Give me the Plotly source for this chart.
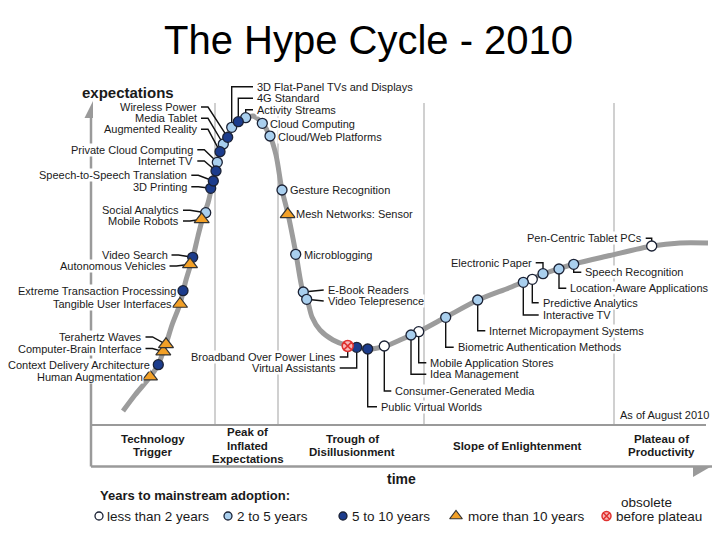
import plotly.graph_objects as go

FONT = "Liberation Sans, Arial, sans-serif"

# ---- data (time across, expectations down the screen) ----
curve_time = [123, 135, 150, 158, 166, 172, 180, 186, 193, 198, 203, 208, 213, 217, 221, 226,
              232, 239, 246, 253, 262, 270, 276, 282, 288, 296, 303, 307, 312, 320, 333, 347,
              358, 368, 386, 400, 419, 446, 478, 510, 543, 574, 610, 652, 680, 708]
curve_expect = [411, 395, 377, 365, 344, 325, 304, 280, 257, 236, 217, 203, 181, 164, 149, 138,
                127, 121, 117.5, 116, 123, 136, 155, 190, 214, 254, 292, 299, 317, 330, 340, 345.5,
                347.5, 349, 346, 340, 331.5, 317, 300, 287.5, 274, 264, 255.5, 246, 243, 243]

tech_names = [
    "Human Augmentation", "Context Delivery Architecture", "Computer-Brain Interface",
    "Terahertz Waves", "Tangible User Interfaces", "Extreme Transaction Processing",
    "Autonomous Vehicles", "Video Search", "Mobile Robots", "Social Analytics", "3D Printing",
    "Speech-to-Speech Translation", "Internet TV", "Private Cloud Computing",
    "Augmented Reality", "Media Tablet", "Wireless Power",
    "3D Flat-Panel TVs and Displays", "4G Standard", "Activity Streams", "Cloud Computing",
    "Cloud/Web Platforms", "Gesture Recognition", "Mesh Networks: Sensor", "Microblogging",
    "E-Book Readers", "Video Telepresence", "Broadband Over Power Lines", "Virtual Assistants",
    "Public Virtual Worlds", "Consumer-Generated Media", "Idea Management",
    "Mobile Application Stores", "Biometric Authentication Methods",
    "Internet Micropayment Systems", "Interactive TV", "Predictive Analytics",
    "Electronic Paper", "Location-Aware Applications", "Speech Recognition",
    "Pen-Centric Tablet PCs",
]
tech_time = [150, 158.3, 163.3, 166, 180, 183, 190, 192.7, 201.7, 205.7, 210.7,
             213.3, 216, 217.3, 220, 223.3, 227.7,
             231.7, 238.3, 245.7, 262.3, 270, 282, 287.7, 295.7,
             303.3, 306.7, 347.7, 356.7, 367.7, 384.3, 411,
             418.7, 445.7, 477.7, 523.3, 532.3, 543, 559, 573.7, 651.7]
tech_expect = [376.7, 364.7, 351.7, 344.3, 304, 290.7, 264.3, 257.3, 219.3, 212.7, 188.3,
               181, 171, 162.3, 151.7, 144, 137.3,
               127.3, 121.7, 117.7, 123.3, 136, 190, 214.3, 254.3,
               292, 299.3, 346, 347.3, 349, 346, 335,
               331.7, 317.3, 300, 282.3, 279.3, 273.7, 269, 264.3, 246]
tech_years = ["gt10", "5to10", "gt10", "gt10", "gt10", "5to10", "gt10", "5to10", "gt10", "2to5", "5to10",
              "5to10", "5to10", "2to5", "5to10", "2to5", "5to10",
              "2to5", "5to10", "2to5", "2to5", "2to5", "2to5", "gt10", "2to5",
              "2to5", "2to5", "obsolete", "5to10", "5to10", "lt2", "2to5",
              "lt2", "2to5", "2to5", "2to5", "lt2", "2to5", "2to5", "2to5", "lt2"]

years_keys = ["lt2", "2to5", "5to10", "gt10", "obsolete"]
years_labels = ["less than 2 years", "2 to 5 years", "5 to 10 years", "more than 10 years",
                "before plateau"]

phase_names = [["Technology", "Trigger"], ["Peak of", "Inflated", "Expectations"],
               ["Trough of", "Disillusionment"], ["Slope of Enlightenment"], ["Plateau of", "Productivity"]]

# ---- layout of the labels: (x, y, side, connector) ----
label_pos = {
    "Human Augmentation": (143.5, 377, "L", "none"),
    "Context Delivery Architecture": (151, 365, "L", "none"),
    "Computer-Brain Interface": (142.5, 348.5, "L", "straight"),
    "Terahertz Waves": (142.5, 337, "L", "straight"),
    "Tangible User Interfaces": (172.5, 304, "L", "none"),
    "Extreme Transaction Processing": (176.5, 291, "L", "none"),
    "Autonomous Vehicles": (166.5, 266, "L", "straight"),
    "Video Search": (168.5, 255, "L", "straight"),
    "Mobile Robots": (180, 221, "L", "straight"),
    "Social Analytics": (180, 210.3, "L", "straight"),
    "3D Printing": (188.3, 186.7, "L", "straight"),
    "Speech-to-Speech Translation": (188.3, 175.3, "L", "straight"),
    "Internet TV": (194.3, 161, "L", "straight"),
    "Private Cloud Computing": (194.3, 149.7, "L", "straight"),
    "Augmented Reality": (198, 129.3, "L", "straight"),
    "Media Tablet": (198, 118.3, "L", "straight"),
    "Wireless Power": (198, 107, "L", "straight"),
    "3D Flat-Panel TVs and Displays": (256, 86.7, "R", "elbow"),
    "4G Standard": (256, 98.3, "R", "elbow"),
    "Activity Streams": (256, 109.7, "R", "elbow"),
    "Cloud Computing": (269, 124.3, "R", "none"),
    "Cloud/Web Platforms": (277, 137, "R", "none"),
    "Gesture Recognition": (289, 190, "R", "none"),
    "Mesh Networks: Sensor": (295, 214, "R", "none"),
    "Microblogging": (303, 255, "R", "none"),
    "E-Book Readers": (326.7, 290, "R", "straight"),
    "Video Telepresence": (326.7, 301, "R", "straight"),
    "Broadband Over Power Lines": (336.7, 357, "L", "elbow"),
    "Virtual Assistants": (336.7, 368, "L", "elbow"),
    "Public Virtual Worlds": (380, 406.7, "R", "elbow"),
    "Consumer-Generated Media": (394.3, 391, "R", "elbow"),
    "Idea Management": (429.3, 374.3, "R", "elbow"),
    "Mobile Application Stores": (429.3, 362.7, "R", "elbow"),
    "Biometric Authentication Methods": (456.7, 347.3, "R", "elbow"),
    "Internet Micropayment Systems": (488.3, 330.7, "R", "elbow"),
    "Interactive TV": (541.7, 315, "R", "elbow"),
    "Predictive Analytics": (541.7, 302.7, "R", "elbow"),
    "Electronic Paper": (532.7, 262.7, "L", "elbow"),
    "Location-Aware Applications": (569.3, 288.3, "R", "elbow"),
    "Speech Recognition": (584.3, 272.3, "R", "elbow"),
    "Pen-Centric Tablet PCs": (642.7, 238.3, "L", "elbow"),
}

marker_style = {
    "lt2": dict(symbol="circle", color="#ffffff", size=10, line=dict(color="#1b2235", width=1.3)),
    "2to5": dict(symbol="circle", color="#a9cfee", size=10, line=dict(color="#1b2235", width=1.3)),
    "5to10": dict(symbol="circle", color="#1c3c8c", size=10, line=dict(color="#1b2235", width=1.3)),
    "gt10": dict(symbol="triangle-up", color="#f2a027", size=13, line=dict(color="#333333", width=1.2)),
    "obsolete": dict(symbol="circle-x", color="#f7b7b7", size=11, line=dict(color="#e0302e", width=1.5)),
}

fig = go.Figure()

# the hype curve
fig.add_trace(go.Scatter(x=curve_time, y=curve_expect, mode="lines",
                         line=dict(color="#9c9c9c", width=5, shape="spline", smoothing=0.8),
                         hoverinfo="skip", showlegend=False))

# connector lines between labels and points
cx, cy = [], []
annotations = []
for name, px, py in zip(tech_names, tech_time, tech_expect):
    lx, ly, side, conn = label_pos[name]
    if side == "L":
        if conn == "straight":
            cx += [lx + 3, lx + 10, px, None]
            cy += [ly, ly, py, None]
        elif conn == "elbow":
            cx += [lx + 3, px, px, None]
            cy += [ly, ly, py, None]
    else:
        if conn == "straight":
            cx += [px, lx - 3, None]
            cy += [py, ly, None]
        elif conn == "elbow":
            cx += [px, px, lx - 3, None]
            cy += [py, ly, ly, None]
    annotations.append(dict(x=lx, y=ly, text=name, showarrow=False,
                            xanchor="right" if side == "L" else "left", yanchor="middle",
                            font=dict(size=11, color="#1a1a1a", family=FONT),
                            bgcolor="white", borderpad=0))

fig.add_trace(go.Scatter(x=cx, y=cy, mode="lines", line=dict(color="#111111", width=1.4),
                         hoverinfo="skip", showlegend=False))

# technology markers, one trace per adoption class
for key in years_keys:
    xs = [t for t, k in zip(tech_time, tech_years) if k == key]
    ys = [e for e, k in zip(tech_expect, tech_years) if k == key]
    names = [n for n, k in zip(tech_names, tech_years) if k == key]
    fig.add_trace(go.Scatter(x=xs, y=ys, mode="markers", marker=marker_style[key],
                             text=names, hoverinfo="text", showlegend=False))

# key at the bottom
key_sym_x = [99, 228, 343, 456, 606.5]
key_text_x = [105, 234.5, 350, 466, 613.5]
key_y = 516
for key, label, sx, tx in zip(years_keys, years_labels, key_sym_x, key_text_x):
    st = dict(marker_style[key])
    st["size"] = st["size"] - 2
    fig.add_trace(go.Scatter(x=[sx], y=[key_y], mode="markers", marker=st,
                             hoverinfo="skip", showlegend=False))
    annotations.append(dict(x=tx, y=key_y, text=label, showarrow=False, xanchor="left",
                            yanchor="middle", font=dict(size=13.5, color="#1a1a1a", family=FONT)))
annotations.append(dict(x=619, y=502, text="obsolete", showarrow=False, xanchor="left",
                        yanchor="middle", font=dict(size=13.5, color="#1a1a1a", family=FONT)))
annotations.append(dict(x=98, y=495, text="<b>Years to mainstream adoption:</b>", showarrow=False,
                        xanchor="left", yanchor="middle", font=dict(size=13, color="#1a1a1a", family=FONT)))

# phase names in the band, one annotation per line to keep the tight line spacing
phase_x = [152.5, 247.5, 352, 517.5, 661]
phase_mid = 445.5
line_gap = 13.4
for lines, x in zip(phase_names, phase_x):
    top = phase_mid - line_gap * (len(lines) - 1) / 2
    for i, txt in enumerate(lines):
        annotations.append(dict(x=x, y=top + i * line_gap, text="<b>" + txt + "</b>", showarrow=False,
                                xanchor="center", yanchor="middle",
                                font=dict(size=11.5, color="#1a1a1a", family=FONT)))

annotations += [
    dict(x=368, y=40, text="The Hype Cycle - 2010", showarrow=False, xanchor="center", yanchor="middle",
         font=dict(size=40, color="#000000", family=FONT)),
    dict(x=128, y=92, text="<b>expectations</b>", showarrow=False, xanchor="center", yanchor="middle",
         font=dict(size=15, color="#1a1a1a", family=FONT)),
    dict(x=401, y=479, text="<b>time</b>", showarrow=False, xanchor="center", yanchor="middle",
         font=dict(size=14, color="#1a1a1a", family=FONT)),
    dict(x=664, y=415, text="As of August 2010", showarrow=False, xanchor="center", yanchor="middle",
         font=dict(size=11, color="#1a1a1a", family=FONT)),
]

# frame: phase separators, band, axes with arrow heads
shapes = []
for sx in [215, 278, 424, 614]:
    shapes.append(dict(type="line", x0=sx, x1=sx, y0=103, y1=425,
                       line=dict(color="#d0d0d0", width=2), layer="below"))
shapes += [
    dict(type="line", x0=91, x1=706, y0=425, y1=425, line=dict(color="#9a9a9a", width=2), layer="below"),
    dict(type="line", x0=91, x1=712, y0=466.5, y1=466.5, line=dict(color="#9a9a9a", width=2.5), layer="below"),
    dict(type="line", x0=91, x1=91, y0=116, y1=466.5, line=dict(color="#9a9a9a", width=2.5), layer="below"),
    dict(type="path", path="M 84.5 118 L 93 118 L 93 101 Z", fillcolor="#9a9a9a",
         line=dict(width=0), layer="below"),
    dict(type="path", path="M 693 466 L 712 466 L 693 477 Z", fillcolor="#9a9a9a",
         line=dict(width=0), layer="below"),
]

# the page body keeps an 8px margin, so the figure is 8px smaller and the
# axis ranges start at 8 to keep the picture where the reference has it
fig.update_layout(
    width=712, height=532,
    margin=dict(l=0, r=0, t=0, b=0),
    paper_bgcolor="white", plot_bgcolor="white",
    xaxis=dict(range=[8, 720], visible=False, fixedrange=True),
    yaxis=dict(range=[540, 8], visible=False, fixedrange=True),
    annotations=annotations,
    shapes=shapes,
    font=dict(family=FONT),
    showlegend=False,
)

fig.write_html("out.html", config={"displayModeBar": False})
